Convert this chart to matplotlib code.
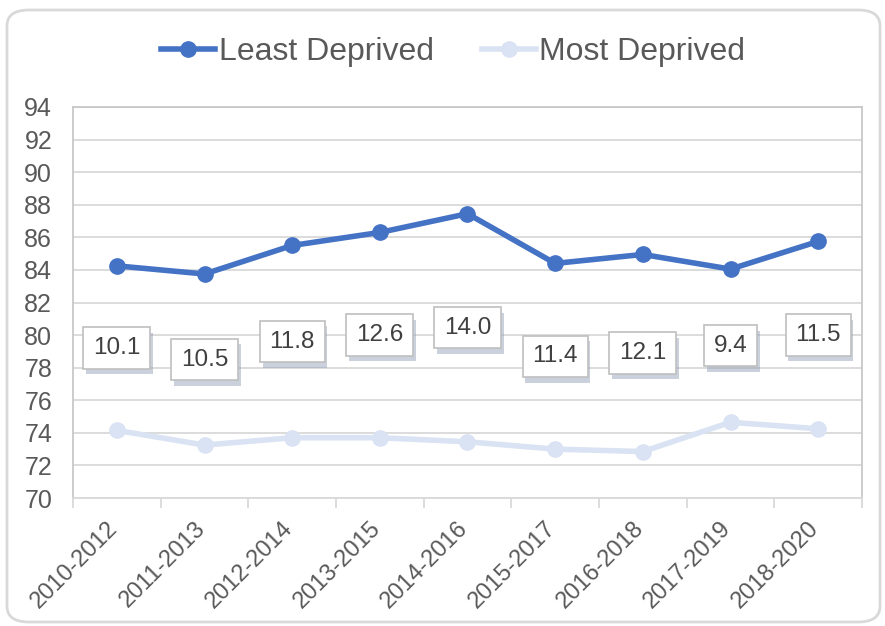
import matplotlib
matplotlib.use('Agg')
import matplotlib.pyplot as plt
import matplotlib.patheffects as pe
import matplotlib.transforms as mtrans
from matplotlib.patches import FancyBboxPatch
import numpy as np

plt.rcParams['font.family'] = ['Liberation Sans', 'DejaVu Sans']

# data
periods = ['2010-2012', '2011-2013', '2012-2014', '2013-2015', '2014-2016',
           '2015-2017', '2016-2018', '2017-2019', '2018-2020']
least_deprived = [84.25, 83.75, 85.5, 86.3, 87.45, 84.4, 84.95, 84.05, 85.75]
most_deprived = [74.15, 73.25, 73.7, 73.7, 73.45, 73.0, 72.85, 74.65, 74.25]
gap_labels = ['10.1', '10.5', '11.8', '12.6', '14.0', '11.4', '12.1', '9.4', '11.5']

text_col = '#595959'
blue = '#4472C4'
light = '#DAE3F3'

fig = plt.figure(figsize=(8.85, 6.26), dpi=100)

# rounded outer frame
frame = FancyBboxPatch((7 / 885, 4 / 626), 873 / 885, 612 / 626,
                       boxstyle='round,pad=0,rounding_size=0.025',
                       transform=fig.transFigure, facecolor='none',
                       edgecolor='#D9D9D9', linewidth=2, zorder=-1)
fig.patches.append(frame)

ax = fig.add_axes([73 / 885, 128 / 626, 789 / 885, 391 / 626])
ax.set_facecolor('none')
x = np.arange(len(periods))

l1, = ax.plot(x, least_deprived, color=blue, lw=4, marker='o', ms=11,
              label='Least Deprived', zorder=4)
l2, = ax.plot(x, most_deprived, color=light, lw=4, marker='o', ms=11,
              label='Most Deprived', zorder=4)

# gap labels sit midway between the two lines
for xi, a, b, lab in zip(x, least_deprived, most_deprived, gap_labels):
    t = ax.text(xi, (a + b) / 2, lab, ha='center', va='center',
                fontsize=17.5, color='#404040', zorder=6,
                bbox=dict(boxstyle='square,pad=0.4', facecolor='white',
                          edgecolor='#BFBFBF', linewidth=1.2))
    t.get_bbox_patch().set_path_effects([
        pe.SimplePatchShadow(offset=(2, -4), shadow_rgbFace='#8A9AB5', alpha=0.45),
        pe.Normal()])

ax.set_xlim(-0.5, len(periods) - 0.5)
ax.set_ylim(70, 94)
ax.set_yticks(np.arange(70, 95, 2))
ax.yaxis.grid(True, color='#D9D9D9', lw=1.3)
ax.set_axisbelow(True)
ax.tick_params(axis='y', length=0, labelsize=18, labelcolor=text_col, pad=15)

ax.set_xticks(x)
ax.set_xticklabels(periods, rotation=45, ha='right', fontsize=17, color=text_col)
ax.set_xticks(np.arange(-0.5, len(periods), 1), minor=True)
ax.tick_params(axis='x', which='major', length=0, pad=14)
ax.tick_params(axis='x', which='minor', length=7, width=1.3, color='#D9D9D9')
shift = mtrans.ScaledTranslation(5 / 100, 0, fig.dpi_scale_trans)
for lab in ax.get_xticklabels():
    lab.set_transform(lab.get_transform() + shift)

for s in ['left', 'top', 'right']:
    ax.spines[s].set_color('#C8C8C8')
    ax.spines[s].set_linewidth(1.3)
ax.spines['bottom'].set_color('#D9D9D9')
ax.spines['bottom'].set_linewidth(1.3)

fig.legend(handles=[l1, l2], loc='center', bbox_to_anchor=(0.512, 0.917),
           ncol=2, frameon=False, fontsize=23, labelcolor=text_col,
           handlelength=1.7, handletextpad=0.1, columnspacing=1.5)

fig.savefig('out.png', dpi=100)
